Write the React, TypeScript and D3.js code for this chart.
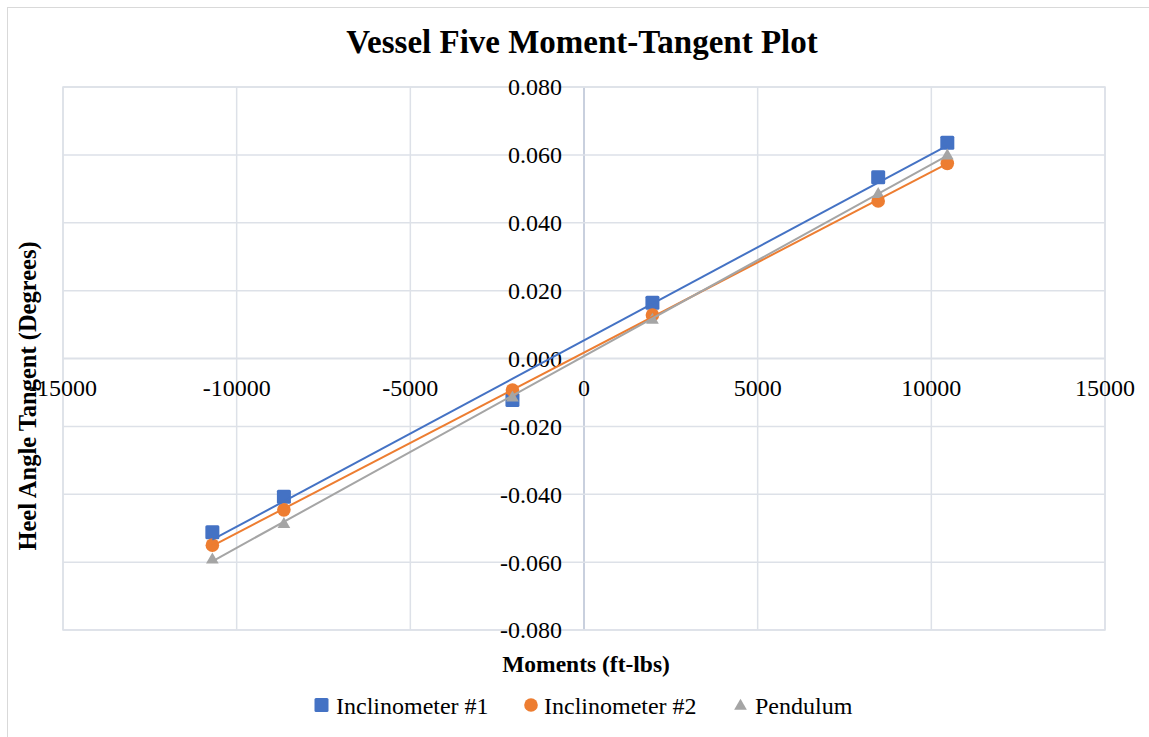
import * as d3 from "d3";

const moments = [-10700, -8640, -2060, 1970, 8470, 10460];
const inclinometer1 = [-0.0512, -0.0407, -0.0122, 0.0164, 0.0534, 0.0636];
const inclinometer2 = [-0.055, -0.0446, -0.0093, 0.0128, 0.0464, 0.0575];
const pendulum = [-0.059, -0.0486, -0.0113, 0.0116, 0.0487, 0.06];

const xTicks = [-15000, -10000, -5000, 0, 5000, 10000, 15000];
const yTicks = [-0.08, -0.06, -0.04, -0.02, 0, 0.02, 0.04, 0.06, 0.08];

const seriesNames = ["Inclinometer #1", "Inclinometer #2", "Pendulum"];
const seriesColors = ["#4472C4", "#ED7D31", "#A5A5A5"];
const seriesShapes = ["square", "circle", "triangle"];

const W = 1149;
const H = 737;
const plot = { left: 63, right: 1105, top: 87, bottom: 630 };
const font = "'Liberation Serif', 'Times New Roman', serif";

// least squares fit, like the Excel linear trendline
function fit(xs: number[], ys: number[]) {
  const mx = d3.mean(xs)!;
  const my = d3.mean(ys)!;
  let num = 0;
  let den = 0;
  xs.forEach((x, i) => {
    num += (x - mx) * (ys[i] - my);
    den += (x - mx) * (x - mx);
  });
  const slope = num / den;
  return (x: number) => my + slope * (x - mx);
}

function Marker({ shape, x, y, color }: { shape: string; x: number; y: number; color: string }) {
  if (shape === "square") {
    return <rect x={x - 7} y={y - 7} width={14} height={14} rx={1.5} fill={color} />;
  }
  if (shape === "circle") {
    return <circle cx={x} cy={y} r={6.8} fill={color} />;
  }
  const sym = d3.symbol().type(d3.symbolTriangle).size(70)();
  return <path d={sym || ""} transform={`translate(${x},${y + 1})`} fill={color} />;
}

export default function App() {
  const x = d3.scaleLinear().domain([-15000, 15000]).range([plot.left, plot.right]);
  const y = d3.scaleLinear().domain([-0.08, 0.08]).range([plot.bottom, plot.top]);

  const series = [inclinometer1, inclinometer2, pendulum];
  const xMin = d3.min(moments)!;
  const xMax = d3.max(moments)!;

  return (
    <div style={{ position: "fixed", left: 0, top: 0 }}>
      <svg width={W} height={H} style={{ display: "block", background: "#fff" }} fontFamily={font}>
        <rect x={7.5} y={7.5} width={W + 20} height={H + 20} fill="none" stroke="#d9d9d9" />

        <text x={582} y={53} textAnchor="middle" fontSize={33} fontWeight="bold" fill="#000" fontFamily={font}>
          Vessel Five Moment-Tangent Plot
        </text>

        {/* gridlines */}
        {xTicks.map((t) => (
          <line key={"gx" + t} x1={x(t)} x2={x(t)} y1={plot.top} y2={plot.bottom}
            stroke={t === 0 ? "#bcc5d6" : "#dde1e8"} strokeWidth={t === 0 ? 1.6 : 1.5} />
        ))}
        {yTicks.map((t) => (
          <line key={"gy" + t} x1={plot.left} x2={plot.right} y1={y(t)} y2={y(t)}
            stroke="#dde1e8" strokeWidth={t === 0 ? 2 : 1.5} />
        ))}
        <rect x={plot.left} y={plot.top} width={plot.right - plot.left} height={plot.bottom - plot.top}
          fill="none" stroke="#dde1e8" strokeWidth={1.5} />

        {/* tick labels */}
        {yTicks.map((t) => (
          <text key={"ly" + t} x={562} y={y(t)} dy="0.35em" textAnchor="end" fontSize={24} fill="#000" fontFamily={font}>
            {d3.format(".3f")(t).replace("−", "-")}
          </text>
        ))}
        {xTicks.map((t) => (
          <text key={"lx" + t} x={x(t)} y={y(0)} dy={37} textAnchor="middle" fontSize={24} fill="#000" fontFamily={font}>
            {String(t)}
          </text>
        ))}

        {/* markers */}
        {series.map((vals, si) =>
          vals.map((v, i) => (
            <Marker key={si + "-" + i} shape={seriesShapes[si]} x={x(moments[i])} y={y(v)} color={seriesColors[si]} />
          ))
        )}

        {/* linear trendlines */}
        {series.map((vals, si) => {
          const f = fit(moments, vals);
          const pts: [number, number][] = [
            [xMin, y(f(xMin))],
            [xMax, y(f(xMax))],
          ];
          const path = d3
            .line<[number, number]>()
            .x((d) => x(d[0]))
            .y((d) => d[1])(pts);
          return <path key={"t" + si} d={path || ""} fill="none" stroke={seriesColors[si]} strokeWidth={2} />;
        })}

        {/* axis titles */}
        <text x={586} y={672} textAnchor="middle" fontSize={23.5} fontWeight="bold" fill="#000" fontFamily={font}>
          Moments (ft-lbs)
        </text>
        <text transform="translate(36,396) rotate(-90)" textAnchor="middle" fontSize={24.5} fontWeight="bold" fill="#000" fontFamily={font}>
          Heel Angle Tangent (Degrees)
        </text>

        {/* legend */}
        {seriesNames.map((name, i) => {
          const lx = [321.5, 531, 740.5][i];
          const tx = [336, 544, 755][i];
          return (
            <g key={"lg" + i}>
              <Marker shape={seriesShapes[i]} x={lx} y={705} color={seriesColors[i]} />
              <text x={tx} y={714} fontSize={24} fill="#000" fontFamily={font}>
                {name}
              </text>
            </g>
          );
        })}
      </svg>
    </div>
  );
}
